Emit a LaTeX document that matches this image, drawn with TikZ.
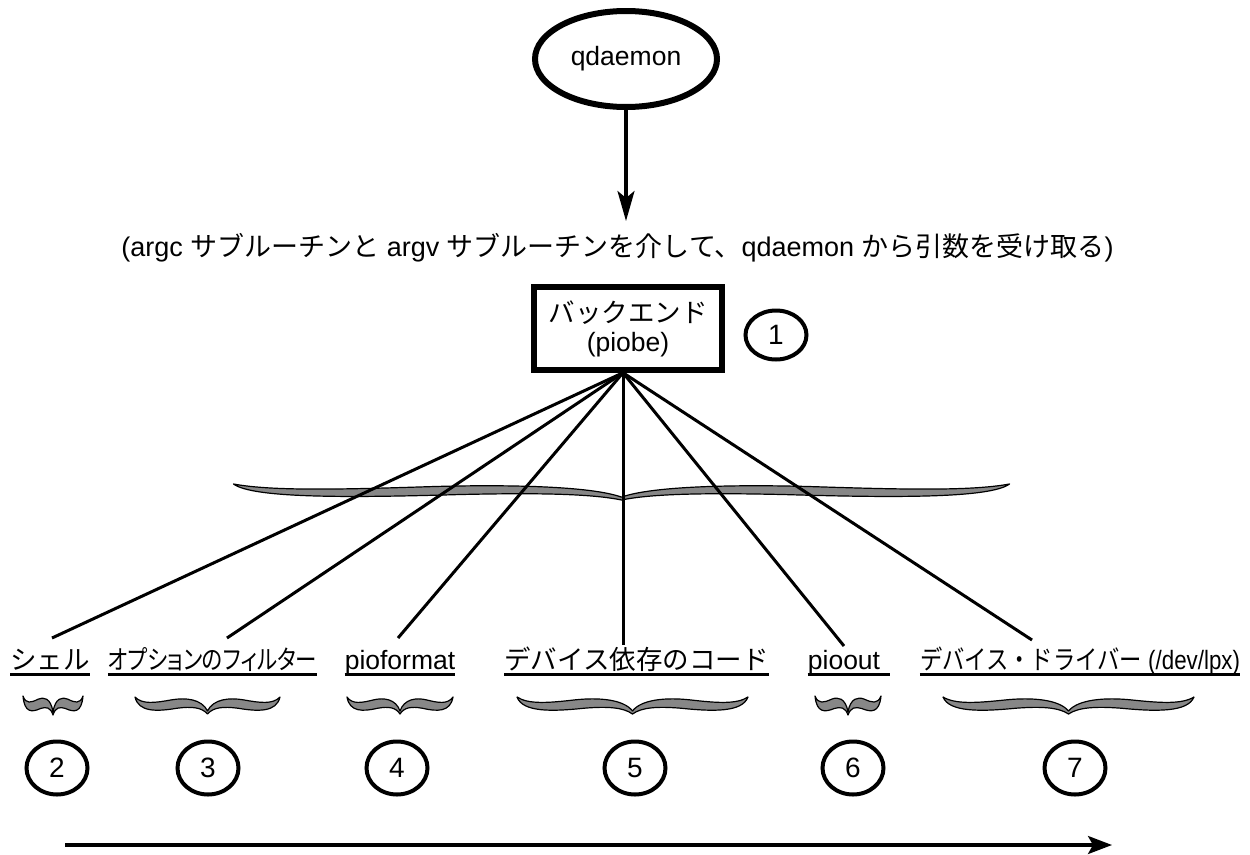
\documentclass[tikz,border=0pt]{standalone}
\usepackage{fontspec}
\usepackage{graphicx}
\setmainfont{Liberation Sans}
\newfontfamily\jp{Noto Sans CJK JP}
\newfontfamily\jpp[RawFeature=+palt]{Noto Sans CJK JP}
\usetikzlibrary{shapes.geometric,arrows.meta}
\definecolor{bracegray}{RGB}{135,135,135}
\begin{document}
\begin{tikzpicture}[x=1pt,y=-1pt,
  txt/.style={font=\fontsize{26.5}{29}\selectfont},
  lbl/.style={txt,anchor=base,inner sep=0pt},
  ul/.style={line width=2.2pt},
  conn/.style={line width=3pt},
  arr/.style={line width=3.2pt,-{Stealth[length=30pt,width=17pt,inset=7pt]}},
  num/.style={ellipse,draw,line width=4pt,minimum width=61pt,minimum height=53pt,inner sep=0pt,font=\fontsize{28}{30}\selectfont},
  cbrace/.pic={
    \filldraw[fill=bracegray,draw=black,line width=1.2pt,line join=round]
     (-1,0) .. controls (-0.9,0.45) and (-0.72,0.34) .. (-0.5,0.17)
     .. controls (-0.3,0.02) and (-0.08,0.12) .. (0,0.82)
     .. controls (0.08,0.12) and (0.3,0.02) .. (0.5,0.17)
     .. controls (0.72,0.34) and (0.9,0.45) .. (1,0)
     .. controls (0.95,0.9) and (0.7,0.86) .. (0.42,0.66)
     .. controls (0.22,0.55) and (0.08,0.6) .. (0,1)
     .. controls (-0.08,0.6) and (-0.22,0.55) .. (-0.42,0.66)
     .. controls (-0.7,0.86) and (-0.95,0.9) .. (-1,0) -- cycle;
  }]
\useasboundingbox (0,0) rectangle (1250,854);

% top ellipse and arrow
\node[ellipse,draw,line width=6pt,minimum width=182pt,minimum height=96pt,inner sep=0pt,txt] (qd) at (626,59) {qdaemon};
\coordinate (qtip) at (626,221);
\draw[arr] (qd.south) -- (qtip);

% argument line
\node[anchor=base,inner sep=0pt,font=\fontsize{27}{30}\selectfont] (args) at (617.5,256)
  {(argc {\jp サブルーチンと} argv {\jp サブルーチンを介して、}qdaemon {\jp から引数を受け取る})};

% backend box
\node[draw,line width=5.5pt,minimum width=188pt,minimum height=83pt,inner sep=0pt,align=center,txt] (box) at (628,328.5)
  {{\jp バックエンド}\\(piobe)};
\node[num,minimum height=49pt] (c1) at (776,335) {1};

% big brace
\pic[xscale=388,yscale=16] (bigb) at (621.5,484) {cbrace};

% connectors
\coordinate (hub) at ([xshift=-5pt]box.south);
\coordinate (e2) at (52,638);
\coordinate (e3) at (227,638);
\coordinate (e4) at (398,638);
\coordinate (e5) at (623,645);
\coordinate (e6) at (844,646);
\coordinate (e7) at (1032,640);
\foreach \e in {e2,e3,e4,e5,e6,e7} \draw[conn] (hub) -- (\e);

% labels
\node[lbl] (L2) at (50,669) {\jp シェル};
\node[lbl] (L3) at (212.5,669) {\resizebox{209pt}{\height}{\jpp オプションのフィルター}};
\node[lbl] (L4) at (400,669) {pioformat};
\node[lbl] (L5) at (636.5,669) {\jp デバイス依存のコード};
\node[lbl] (L6) at (849,669) {pioout\hspace*{10pt}};
\node[lbl] (L7) at (1080,669) {\resizebox{320pt}{\height}{{\jp デバイス・ドライバー} (/dev/lpx)}};
\foreach \l in {L2,L3,L4,L5,L6,L7}
  \draw[ul] ([yshift=-5.5pt]\l.base west) -- ([yshift=-5.5pt]\l.base east);

% small braces
\pic[xscale=30,yscale=19] (b2) at (53,696) {cbrace};
\pic[xscale=72.5,yscale=17] (b3) at (207.5,697) {cbrace};
\pic[xscale=53,yscale=17] (b4) at (400,697) {cbrace};
\pic[xscale=115.5,yscale=17] (b5) at (632.5,697) {cbrace};
\pic[xscale=33,yscale=19] (b6) at (848,696) {cbrace};
\pic[xscale=125.5,yscale=17] (b7) at (1068.5,697) {cbrace};

% numbered circles
\node[num] (c2) at (57,768) {2};
\node[num] (c3) at (208,768) {3};
\node[num] (c4) at (397,768) {4};
\node[num] (c5) at (635,768) {5};
\node[num] (c6) at (853,768) {6};
\node[num] (c7) at (1075,768) {7};

% bottom arrow
\coordinate (a0) at (65,845);
\coordinate (a1) at (1112,845);
\draw[line width=3.2pt,-{Stealth[length=24pt,width=18pt,inset=5pt]}] (a0) -- (a1);
\end{tikzpicture}
\end{document}
